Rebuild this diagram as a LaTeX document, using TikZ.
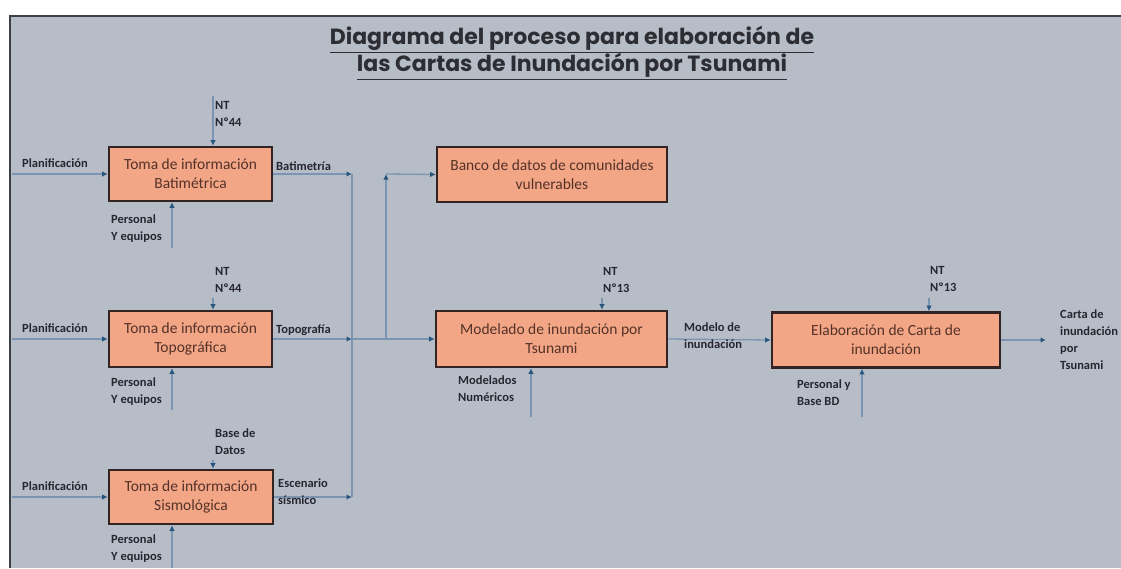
\documentclass[tikz,border=0pt]{standalone}
\usepackage{fontspec}
\setmainfont{Carlito}
\newfontfamily\titlefont{Poppins}
\usetikzlibrary{arrows.meta}
\definecolor{panel}{RGB}{183,189,199}
\definecolor{panelline}{RGB}{60,64,72}
\definecolor{boxfill}{RGB}{242,166,134}
\definecolor{boxline}{RGB}{50,36,34}
\definecolor{boxtext}{RGB}{85,50,40}
\definecolor{connline}{RGB}{122,148,178}
\definecolor{tipcol}{RGB}{40,85,125}
\definecolor{labeltext}{RGB}{38,38,48}
\definecolor{titletext}{RGB}{45,45,52}
\tikzset{
  proc/.style={draw=boxline, line width=2.6pt, fill=boxfill, align=center,
    text=boxtext, inner sep=0pt, font=\fontsize{15.5}{19}\selectfont},
  lbl/.style={font=\bfseries\fontsize{12.5}{17}\selectfont, align=left,
    text=labeltext, inner sep=0pt},
  conn/.style={draw=connline, line width=1.3pt,
    -{Latex[length=5.5pt,width=5.5pt,color=tipcol]}},
  plain/.style={draw=connline, line width=1.3pt}
}
\begin{document}
\begin{tikzpicture}[x=1pt,y=-1pt]
\useasboundingbox (0,0) rectangle (1121,568);
\fill[white] (0,0) rectangle (1121,568);
\fill[panel] (10,16) rectangle (1121,568);
\draw[panelline, line width=1.6pt] (10,568) -- (10,16) -- (1121,16);

% title
\node[font=\titlefont\bfseries\fontsize{22}{26}\selectfont, text=titletext, align=center] (title) at (572,53)
  {\underline{Diagrama del proceso para elaboración de}\\\underline{las Cartas de Inundación por Tsunami}};

% boxes
\node[proc, minimum width=163pt, minimum height=54pt] (b1) at (190.5,174) {Toma de información\\Batimétrica};
\node[proc, minimum width=163pt, minimum height=56pt] (b2) at (190.5,339) {Toma de información\\Topográfica};
\node[proc, minimum width=164pt, minimum height=54pt] (b3) at (191,497) {Toma de información\\Sismológica};
\node[proc, minimum width=230pt, minimum height=55pt] (b4) at (552,174.5) {Banco de datos de comunidades\\vulnerables};
\node[proc, minimum width=231pt, minimum height=56pt] (b5) at (551.5,339) {Modelado de inundación por\\Tsunami};
\node[proc, minimum width=228pt, minimum height=55pt] (b6) at (886,340) {Elaboración de Carta de\\inundación};

% inputs
\coordinate (p1) at (12,174);
\coordinate (p2) at (12,339);
\coordinate (p3) at (12,497);
\draw[conn] (p1) -- (b1.west);
\draw[conn] (p2) -- (b2.west);
\draw[conn] (p3) -- (b3.west);
\node[lbl, anchor=west] (lp1) at (22,163) {Planificación};
\node[lbl, anchor=west] (lp2) at (22,328) {Planificación};
\node[lbl, anchor=west] (lp3) at (22,486) {Planificación};

% controls
\coordinate (c1) at (213,96);
\coordinate (c2) at (213,298);
\coordinate (c3) at (213,460);
\coordinate (c5) at (602,298);
\coordinate (c6) at (929,298);
\draw[conn] (c1) -- (c1 |- b1.north);
\draw[conn] (c2) -- (c2 |- b2.north);
\draw[conn] (c3) -- (c3 |- b3.north);
\draw[conn] (c5) -- (c5 |- b5.north);
\draw[conn] (c6) -- (c6 |- b6.north);
\node[lbl, anchor=north west] (lc1) at (215,101) {NT\\Nº44};
\node[lbl, anchor=north west] (lc2) at (215,267) {NT\\Nº44};
\node[lbl, anchor=north west] (lc3) at (215,429) {Base de\\Datos};
\node[lbl, anchor=north west] (lc5) at (603,267) {NT\\Nº13};
\node[lbl, anchor=north west] (lc6) at (930,266) {NT\\Nº13};

% mechanisms
\coordinate (m1) at (172,248);
\coordinate (m2) at (172,410);
\coordinate (m3) at (172,568);
\coordinate (m5) at (531,417);
\coordinate (m6) at (862,417);
\draw[conn] (m1) -- (m1 |- b1.south);
\draw[conn] (m2) -- (m2 |- b2.south);
\draw[conn] (m3) -- (m3 |- b3.south);
\draw[conn] (m5) -- (m5 |- b5.south);
\draw[conn] (m6) -- (m6 |- b6.south);
\node[lbl, anchor=north west] (lm1) at (111,215) {Personal\\Y equipos};
\node[lbl, anchor=north west] (lm2) at (111,378) {Personal\\Y equipos};
\node[lbl, anchor=north west] (lm3) at (111,535) {Personal\\Y equipos};
\node[lbl, anchor=north west] (lm5) at (458,376) {Modelados\\Numéricos};
\node[lbl, anchor=north west] (lm6) at (797,380) {Personal y\\Base BD};

% outputs to bus
\coordinate (bt) at (352,174);
\coordinate (jn) at (352,339);
\coordinate (bb) at (352,497);
\coordinate (br) at (386,339);
\coordinate (bc) at (386,174);
\draw[conn] (b1.east) -- (bt);
\draw[conn] (b2.east) -- (jn);
\draw[conn] (b3.east) -- (bb);
\draw[plain] (bt) -- (bb);
\draw[conn] (jn) -- (b5.west);
\draw[conn] (br) -- (bc);
\draw[conn] (bc) -- (b4.west);
\node[lbl, anchor=west] (lo1) at (276,166) {Batimetría};
\node[lbl, anchor=west] (lo2) at (276,330) {Topografía};
\node[lbl, anchor=north west] (lo3) at (278,479) {Escenario\\sísmico};

% model to chart
\draw[conn] (b5.east) -- (b6.west);
\node[lbl, anchor=north west] (lo5) at (684,323) {Modelo de\\inundación};
\coordinate (out) at (1046,340);
\draw[conn] (b6.east) -- (out);
\node[lbl, anchor=north west] (lo6) at (1060,310) {Carta de\\inundación\\por\\Tsunami};
\end{tikzpicture}
\end{document}
